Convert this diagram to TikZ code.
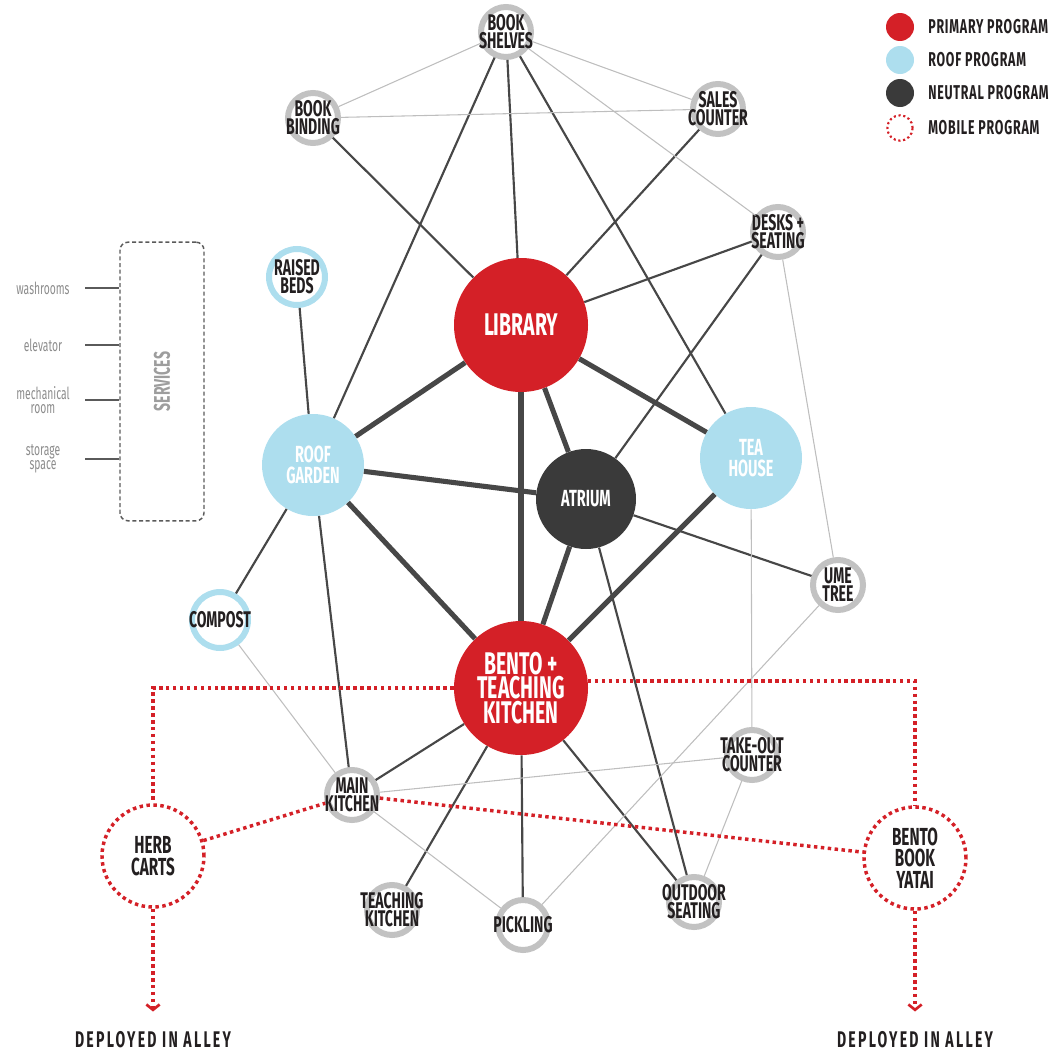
\documentclass[tikz,border=0pt]{standalone}
\usepackage{fontspec}
\setmainfont{Fira Sans}
\newfontfamily\labelfont[FakeStretch=0.62]{Fira Sans}
\newfontfamily\keyfont[FakeStretch=0.62,LetterSpace=4]{Fira Sans}
\newfontfamily\alleyfont[FakeStretch=0.62,LetterSpace=10]{Fira Sans}
\usetikzlibrary{arrows.meta}
\definecolor{primred}{HTML}{D42027}
\definecolor{roofblue}{HTML}{ADDEEE}
\definecolor{neutral}{HTML}{3A3A3A}
\definecolor{ringgray}{HTML}{C2C2C2}
\definecolor{edgegray}{HTML}{474747}
\definecolor{faintgray}{HTML}{BEBEBE}
\definecolor{inkblack}{HTML}{231F20}
\definecolor{svcgray}{HTML}{8C8C8C}
\definecolor{svcline}{HTML}{5A5A5A}

\begin{document}
\begin{tikzpicture}[x=0.75pt,y=-0.75pt,
    hub node/.style={circle,fill=#1,text=white,inner sep=0pt,align=center,minimum size=100.5pt,
      font=\labelfont\bfseries\fontsize{23.5}{18.5}\selectfont},
    zone node/.style={circle,fill=#1,text=white,inner sep=0pt,align=center,minimum size=76.5pt,
      font=\labelfont\bfseries\fontsize{17.5}{16}\selectfont},
    ring node/.style={circle,draw=#1,line width=4.5pt,fill=white,inner sep=-20pt,align=center,
      minimum size=37.5pt,text=inkblack,font=\labelfont\bfseries\fontsize{17}{13.5}\selectfont},
    ring node/.default=ringgray,
    cart node/.style={circle,draw=primred,line width=2.6pt,dash pattern=on 2.6pt off 2.6pt,fill=white,
      inner sep=0pt,align=center,minimum size=76.5pt,text=inkblack,
      font=\labelfont\bfseries\fontsize{18.5}{16}\selectfont},
    key dot/.style={circle,fill=#1,minimum size=21pt,inner sep=0pt},
    key text/.style={anchor=west,inner sep=0pt,text=inkblack,font=\keyfont\bfseries\fontsize{15}{15}\selectfont},
    svc label/.style={align=center,inner sep=0pt,text=svcgray,font=\labelfont\fontsize{12.5}{10.5}\selectfont},
    heavy/.style={draw=edgegray,line width=3.8pt},
    link/.style={draw=edgegray,line width=1.6pt},
    faint/.style={draw=faintgray,line width=0.8pt},
    mobile/.style={draw=primred,line width=2.6pt,dash pattern=on 2.6pt off 2.6pt},
    alley/.style={inner sep=0pt,text=inkblack,font=\alleyfont\bfseries\fontsize{17}{17}\selectfont}]
  \useasboundingbox (0,0) rectangle (1060,1053);

  \node[hub node=primred](library) at (521,325){LIBRARY};
  \node[hub node=primred](bento) at (521,688){BENTO +\\TEACHING\\KITCHEN};
  \node[zone node=roofblue](roofgarden) at (313,465){ROOF\\GARDEN};
  \node[zone node=neutral,minimum size=75pt](atrium) at (586,499){ATRIUM};
  \node[zone node=roofblue](teahouse) at (751,458){TEA\\HOUSE};

  \node[ring node](shelves) at (506,32){BOOK\\SHELVES};
  \node[ring node](binding) at (313,118){BOOK\\BINDING};
  \node[ring node](sales) at (718,109){SALES\\COUNTER};
  \node[ring node](desks) at (778,232){DESKS +\\SEATING};
  \node[ring node=roofblue,minimum size=42pt](beds) at (297,277){RAISED\\BEDS};
  \node[ring node=roofblue,minimum size=42pt](compost) at (220,620){COMPOST};
  \node[ring node](ume) at (838,585){UME\\TREE};
  \node[ring node](takeout) at (752,755){TAKE-OUT\\COUNTER};
  \node[ring node](mainkitchen) at (352,795){MAIN\\KITCHEN};
  \node[ring node](teachkitchen) at (392,910){TEACHING\\KITCHEN};
  \node[ring node](pickling) at (523,925){PICKLING};
  \node[ring node](outdoor) at (694,902){OUTDOOR\\SEATING};

  \node[cart node](herb) at (153,856){HERB\\CARTS};
  \node[cart node](yatai) at (915,858){BENTO\\BOOK\\YATAI};
  \node[alley](deployL) at (153,1040){DEPLOYED IN ALLEY};
  \node[alley](deployR) at (915,1040){DEPLOYED IN ALLEY};

  \path[heavy]
   (library) edge (roofgarden)
   edge (atrium)
   edge (teahouse)
   edge (bento)
   (roofgarden) edge (atrium)
   edge (bento)
   (atrium) edge (bento)
   (teahouse) edge (bento);

  \path[link]
   (shelves) edge (library)
   edge (roofgarden)
   edge (teahouse)
   (binding) edge (library)
   (sales) edge (library)
   (desks) edge (library)
   edge (atrium)
   (beds) edge (roofgarden)
   (roofgarden) edge (compost)
   edge (mainkitchen)
   (atrium) edge (ume)
   edge (outdoor)
   (bento) edge (mainkitchen)
   edge (teachkitchen)
   edge (pickling)
   edge (outdoor);

  \path[faint]
   (shelves) edge (binding)
   edge (sales)
   edge (desks)
   (binding) edge (sales)
   (desks) edge (ume)
   (teahouse) edge (takeout)
   (ume) edge (pickling)
   (compost) edge (mainkitchen)
   (mainkitchen) edge (takeout)
   edge (pickling)
   (takeout) edge (outdoor);

  \draw[mobile] (bento.west) -| (herb.north);
  \draw[mobile] (bento.6) -| (yatai.north);
  \path[mobile] (herb) edge (mainkitchen)
   (mainkitchen) edge (yatai);
  \draw[mobile,-{Straight Barb[length=4pt,width=10pt,line width=2pt]},shorten >=15pt]
   (herb.south) -- (deployL.north);
  \draw[mobile,-{Straight Barb[length=4pt,width=10pt,line width=2pt]},shorten >=15pt]
   (yatai.south) -- (deployR.north);

  \node[draw=svcline,line width=1.1pt,dash pattern=on 3pt off 2pt,rounded corners=6pt,
        minimum width=63pt,minimum height=209pt](services) at (162,381.5){};
  \node[rotate=90,text=svcgray!85,font=\labelfont\bfseries\fontsize{17}{17}\selectfont](svctitle) at (services){SERVICES};
  \coordinate (svcstub) at (85,0);
  \node[svc label](wash) at (43,288){washrooms};
  \node[svc label](elev) at (43,345){elevator};
  \node[svc label](mech) at (43,400){mechanical\\room};
  \node[svc label](store) at (43,459){storage\\space};
  \foreach \s in {wash,elev,mech,store}
    \draw[svcline,line width=1.5pt] (\s -| svcstub) -- (\s -| services.west);

  \node[key dot=primred](keyprim) at (900,27){};
  \node[key dot=roofblue](keyroof) at (900,60){};
  \node[key dot=neutral](keyneut) at (900,93){};
  \node[circle,draw=primred,line width=1.6pt,dash pattern=on 1.6pt off 2pt,minimum size=19pt,inner sep=0pt](keymob) at (900,128){};
  \node[key text](keyprimtext) at (928,27){PRIMARY PROGRAM};
  \node[key text](keyrooftext) at (928,60){ROOF PROGRAM};
  \node[key text](keyneuttext) at (928,93){NEUTRAL PROGRAM};
  \node[key text](keymobtext) at (928,128){MOBILE PROGRAM};
\end{tikzpicture}
\end{document}
